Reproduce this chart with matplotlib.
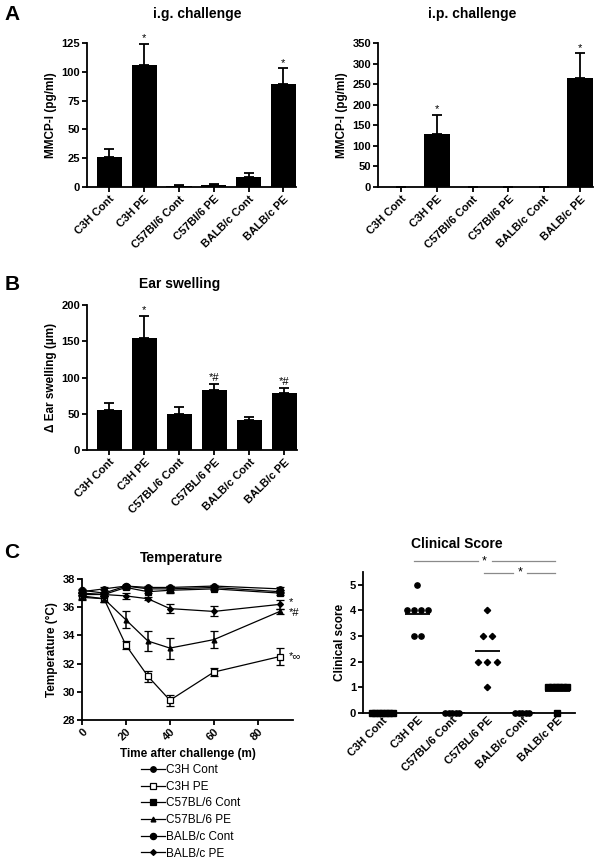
import matplotlib.pyplot as plt
import numpy as np

plt.rcParams['font.family'] = ['Liberation Sans', 'DejaVu Sans']
plt.rcParams['font.weight'] = 'bold'
plt.rcParams['axes.linewidth'] = 1.3

# data
groups_a = ['C3H Cont', 'C3H PE', 'C57Bl/6 Cont', 'C57Bl/6 PE', 'BALB/c Cont', 'BALB/c PE']
groups_b = ['C3H Cont', 'C3H PE', 'C57BL/6 Cont', 'C57BL/6 PE', 'BALB/c Cont', 'BALB/c PE']

ig_mean = [26, 106, 1, 2, 9, 89]
ig_sem = [7, 18, 0.4, 0.6, 3, 14]
ig_marks = ['', '*', '', '', '', '*']

ip_mean = [0, 130, 0, 0, 0, 265]
ip_sem = [0, 45, 0, 0, 0, 60]
ip_marks = ['', '*', '', '', '', '*']

ear_mean = [55, 154, 49, 83, 42, 79]
ear_sem = [10, 31, 10, 8, 3, 7]
ear_marks = ['', '*', '', '*#', '', '*#']

time_min = [0, 10, 20, 30, 40, 60, 90]
temp_c3h_cont = [37.1, 37.3, 37.5, 37.4, 37.4, 37.5, 37.3]
temp_c3h_cont_err = [0.1, 0.1, 0.1, 0.1, 0.1, 0.1, 0.1]
temp_c3h_pe = [36.8, 36.6, 33.3, 31.1, 29.4, 31.4, 32.5]
temp_c3h_pe_err = [0.2, 0.2, 0.3, 0.4, 0.4, 0.3, 0.6]
temp_c57_cont = [37.0, 36.9, 37.4, 37.1, 37.2, 37.3, 37.0]
temp_c57_cont_err = [0.1, 0.1, 0.1, 0.1, 0.2, 0.1, 0.1]
temp_c57_pe = [36.7, 36.6, 35.1, 33.6, 33.1, 33.7, 35.7]
temp_c57_pe_err = [0.2, 0.2, 0.6, 0.7, 0.75, 0.6, 0.2]
temp_balb_cont = [37.2, 37.0, 37.5, 37.3, 37.3, 37.4, 37.1]
temp_balb_cont_err = [0.1, 0.1, 0.1, 0.1, 0.2, 0.1, 0.1]
temp_balb_pe = [36.9, 36.9, 36.8, 36.6, 35.9, 35.7, 36.2]
temp_balb_pe_err = [0.1, 0.1, 0.2, 0.1, 0.3, 0.35, 0.3]
temp_marks = ['*', '*#', '*\u221e']
temp_marks_y = [36.35, 35.6, 32.5]

score_c3h_cont = [0, 0, 0, 0, 0, 0, 0]
score_c3h_pe = [5, 4, 4, 4, 4, 3, 3]
score_c57_cont = [0, 0, 0, 0, 0]
score_c57_pe = [4, 3, 3, 2, 2, 2, 1]
score_balb_cont = [0, 0, 0, 0, 0]
score_balb_pe = [1, 1, 1, 1, 1, 1, 0]

W, H = 603, 859
fig = plt.figure(figsize=(W / 100, H / 100), dpi=100)

TICK_FS = 8
LAB_FS = 8.5


def px_axes(x0, x1, ytop, ybot):
    return fig.add_axes([x0 / W, 1 - ybot / H, (x1 - x0) / W, (ybot - ytop) / H])


def style(ax):
    ax.spines['top'].set_visible(False)
    ax.spines['right'].set_visible(False)
    ax.tick_params(direction='out', length=3.5, width=1.3, labelsize=TICK_FS, pad=1.5)


def bar_panel(ax, labels, mean, sem, marks, ymax, yticks, ylabel):
    idx = np.arange(len(labels))
    ax.bar(idx, mean, 0.72, color='black', yerr=(np.zeros(len(mean)), sem),
           error_kw=dict(ecolor='black', elinewidth=1.3, capsize=3.8, capthick=1.3))
    for i, m in enumerate(marks):
        if m:
            ax.annotate(m, (i, mean[i] + sem[i]), xytext=(0, 0.5), textcoords='offset points',
                        ha='center', va='bottom', fontsize=8, fontweight='normal')
    ax.set_xlim(-0.64, 5.36)
    ax.set_ylim(0, ymax)
    ax.set_yticks(yticks)
    ax.set_xticks(idx)
    ax.set_xticklabels(labels, rotation=45, ha='right', rotation_mode='anchor')
    ax.set_ylabel(ylabel, fontsize=LAB_FS, fontweight='bold', labelpad=3)
    style(ax)


# A left
ax1 = px_axes(87, 296, 43, 187)
bar_panel(ax1, groups_a, ig_mean, ig_sem, ig_marks, 125, [0, 25, 50, 75, 100, 125], 'MMCP-I (pg/ml)')
# A right
ax2 = px_axes(378, 593, 43, 187)
bar_panel(ax2, groups_a, ip_mean, ip_sem, ip_marks, 350, np.arange(0, 351, 50), 'MMCP-I (pg/ml)')
# B
ax3 = px_axes(87, 297, 305, 450)
bar_panel(ax3, groups_b, ear_mean, ear_sem, ear_marks, 200, [0, 50, 100, 150, 200],
          '\u0394 Ear swelling (\u00b5m)')

# C left - temperature
ax4 = px_axes(82, 293, 579, 720)
series = [
    ('C3H Cont', temp_c3h_cont, temp_c3h_cont_err, 'o', 'black', 4),
    ('C3H PE', temp_c3h_pe, temp_c3h_pe_err, 's', 'white', 5),
    ('C57BL/6 Cont', temp_c57_cont, temp_c57_cont_err, 's', 'black', 4),
    ('C57BL/6 PE', temp_c57_pe, temp_c57_pe_err, '^', 'black', 3.5),
    ('BALB/c Cont', temp_balb_cont, temp_balb_cont_err, 'o', 'black', 4.5),
    ('BALB/c PE', temp_balb_pe, temp_balb_pe_err, 'D', 'black', 3),
]
handles = []
for name, vals, err, mk, fc, ms in series:
    h = ax4.errorbar(time_min, vals, yerr=err, color='black', lw=0.9, marker=mk, ms=ms,
                     mfc=fc, mec='black', mew=0.9, elinewidth=1.1, capsize=3, capthick=1.1,
                     label=name, clip_on=False, zorder=3)
    handles.append(h.lines[0])
for m, yv in zip(temp_marks, temp_marks_y):
    ax4.text(94, yv, m, fontsize=8, fontweight='normal', va='center', ha='left', clip_on=False)
ax4.set_xlim(0, 96)
ax4.set_ylim(28, 38)
ax4.set_yticks([28, 30, 32, 34, 36, 38])
ax4.set_xticks([0, 20, 40, 60, 80])
ax4.set_xticklabels(['0', '20', '40', '60', '80'], rotation=45, ha='right', rotation_mode='anchor')
ax4.set_ylabel('Temperature (\u00b0C)', fontsize=LAB_FS, fontweight='bold', labelpad=3)
ax4.set_xlabel('Time after challenge (m)', fontsize=LAB_FS, fontweight='bold', labelpad=4)
style(ax4)
fig.legend(handles=handles, labels=[s[0] for s in series], loc='upper left',
           bbox_to_anchor=(141 / W, 1 - 764 / H), frameon=False,
           prop={'weight': 'normal', 'size': 8.5}, handlelength=2.0, handletextpad=0.1,
           labelspacing=0.4, borderpad=0, borderaxespad=0)

# C right - clinical score
ax5 = px_axes(363, 575, 572, 713)
score_sets = [
    (score_c3h_cont, 's', 0.1),
    (score_c3h_pe, 'o', 0.2),
    (score_c57_cont, 'o', 0.1),
    (score_c57_pe, 'D', 0.26),
    (score_balb_cont, 'o', 0.1),
    (score_balb_pe, 's', 0.11),
]
for i, (vals, mk, sp) in enumerate(score_sets):
    vals = np.array(vals)
    xs = np.zeros(len(vals), dtype=float)
    for v in np.unique(vals):
        sel = np.where(vals == v)[0]
        xs[sel] = i + (np.arange(len(sel)) - (len(sel) - 1) / 2) * sp
    ax5.plot(xs, vals, linestyle='none', marker=mk, ms=3.8 if mk != 'D' else 3.2,
             color='black', clip_on=False, zorder=3)
    ax5.hlines(vals.mean(), i - 0.36, i + 0.36, color='black', lw=1.3, zorder=2)
ax5.set_xlim(-0.55, 5.5)
ax5.set_ylim(0, 5.5)
ax5.set_yticks([0, 1, 2, 3, 4, 5])
ax5.set_xticks(np.arange(6))
ax5.set_xticklabels(groups_b, rotation=45, ha='right', rotation_mode='anchor')
ax5.set_ylabel('Clinical score', fontsize=LAB_FS, fontweight='bold', labelpad=3)
style(ax5)
ax5.tick_params(axis='x', length=0)
grey = '#8a8a8a'
ax5.plot([0.9, 2.72], [5.93, 5.93], color=grey, lw=0.9, clip_on=False)
ax5.plot([3.12, 4.94], [5.93, 5.93], color=grey, lw=0.9, clip_on=False)
ax5.text(2.92, 5.93, '*', ha='center', va='center', fontsize=9, fontweight='normal')
ax5.plot([2.9, 3.74], [5.47, 5.47], color=grey, lw=0.9, clip_on=False)
ax5.plot([4.14, 4.94], [5.47, 5.47], color=grey, lw=0.9, clip_on=False)
ax5.text(3.94, 5.47, '*', ha='center', va='center', fontsize=9, fontweight='normal')

# titles and panel letters
fig.text(197 / W, 1 - 14 / H, 'i.g. challenge', ha='center', va='center', fontsize=10)
fig.text(472 / W, 1 - 14 / H, 'i.p. challenge', ha='center', va='center', fontsize=10)
fig.text(180 / W, 1 - 284 / H, 'Ear swelling', ha='center', va='center', fontsize=10)
fig.text(182 / W, 1 - 558 / H, 'Temperature', ha='center', va='center', fontsize=10)
fig.text(457 / W, 1 - 544 / H, 'Clinical Score', ha='center', va='center', fontsize=10)
fig.text(12 / W, 1 - 14 / H, 'A', ha='center', va='center', fontsize=15)
fig.text(12 / W, 1 - 284 / H, 'B', ha='center', va='center', fontsize=15)
fig.text(12 / W, 1 - 553 / H, 'C', ha='center', va='center', fontsize=15)

fig.savefig('out.png', dpi=100)
